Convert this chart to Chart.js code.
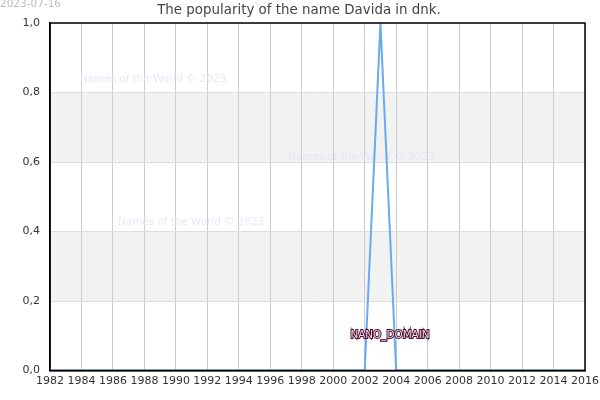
<!DOCTYPE html>
<html>
<head>
<meta charset="utf-8">
<script src="https://cdn.jsdelivr.net/npm/chart.js@4"></script>
<style>
  html, body { margin: 0; padding: 0; background: #fff; }
  #wrap { width: 600px; height: 400px; }
</style>
</head>
<body>
<div id="wrap"><canvas id="popularityChart" width="600" height="400"></canvas></div>
<script>
// Données
const years = [1982, 1983, 1984, 1985, 1986, 1987, 1988, 1989, 1990, 1991, 1992, 1993,
    1994, 1995, 1996, 1997, 1998, 1999, 2000, 2001, 2002, 2003, 2004, 2005, 2006,
    2007, 2008, 2009, 2010, 2011, 2012, 2013, 2014, 2015, 2016];
const popularity = [0, 0, 0, 0, 0, 0, 0, 0, 0, 0, 0, 0,
    0, 0, 0, 0, 0, 0, 0, 0, 0, 1, 0, 0, 0,
    0, 0, 0, 0, 0, 0, 0, 0, 0, 0];
const yTicks = [0, 0.2, 0.4, 0.6, 0.8, 1.0];
const xTicks = [1982, 1984, 1986, 1988, 1990, 1992, 1994, 1996, 1998, 2000, 2002,
    2004, 2006, 2008, 2010, 2012, 2014, 2016];
const bands = [[0.2, 0.4], [0.6, 0.8]];
const watermarks = [[80, 79], [288, 157], [118, 222]];
const chartTitle = 'The popularity of the name Davida in dnk.';

const FONT = 'DejaVu Sans';

// Fond, titre, filigranes et étiquettes
const decorPlugin = {
    id: 'decor',
    beforeDraw(chart) {
        const { ctx, chartArea: a, scales: { y } } = chart;
        ctx.save();
        ctx.fillStyle = '#f2f2f2';
        bands.forEach(([lo, hi]) => {
            const top = y.getPixelForValue(hi);
            const bottom = y.getPixelForValue(lo);
            ctx.fillRect(a.left, top, a.right - a.left, bottom - top);
        });
        ctx.font = `10.5px "${FONT}"`;
        ctx.fillStyle = '#bbbbbb';
        ctx.textBaseline = 'middle';
        ctx.fillText('2023-07-16', 0, 4);
        ctx.font = `13.4px "${FONT}"`;
        ctx.fillStyle = '#444';
        ctx.textAlign = 'center';
        ctx.fillText(chartTitle, 299, 10.5);
        ctx.restore();
    },
    beforeDatasetsDraw(chart) {
        const { ctx } = chart;
        ctx.save();
        ctx.font = `10.4px "${FONT}"`;
        ctx.fillStyle = 'rgba(225, 225, 250, 0.8)';
        ctx.textBaseline = 'middle';
        watermarks.forEach(([x, y]) => ctx.fillText('Names of the World © 2023', x, y));
        ctx.restore();
    },
    afterDatasetsDraw(chart) {
        const { ctx, chartArea: a } = chart;
        ctx.save();
        ctx.strokeStyle = '#000';
        ctx.lineWidth = 1.5;
        ctx.strokeRect(a.left, a.top, a.right - a.left, a.bottom - a.top);
        ctx.font = `10.4px "${FONT}"`;
        ctx.textAlign = 'center';
        ctx.textBaseline = 'middle';
        ctx.lineWidth = 2;
        ctx.strokeStyle = '#4a1030';
        ctx.strokeText('NANO_DOMAIN', 390, 335);
        ctx.fillStyle = '#f0d0e0';
        ctx.fillText('NANO_DOMAIN', 390, 335);
        ctx.restore();
    }
};

function initializeChart() {
    const ctx = document.getElementById('popularityChart').getContext('2d');
    new Chart(ctx, {
        type: 'line',
        data: {
            datasets: [{
                data: years.map((yr, i) => ({ x: yr, y: popularity[i] })),
                borderColor: '#66aaf0',
                borderWidth: 2,
                pointRadius: 0,
                tension: 0,
                fill: false
            }]
        },
        options: {
            responsive: false,
            animation: false,
            devicePixelRatio: 1,
            layout: { padding: { top: 23, right: 15 } },
            plugins: {
                legend: { display: false },
                tooltip: { enabled: false },
                title: { display: false }
            },
            scales: {
                x: {
                    type: 'linear',
                    min: 1982,
                    max: 2016,
                    afterBuildTicks: axis => { axis.ticks = xTicks.map(v => ({ value: v })); },
                    afterFit: axis => {
                        axis.height = 29.5;
                        axis.paddingRight = 0;
                        axis.paddingLeft = 0;
                    },
                    ticks: {
                        color: '#333',
                        font: { family: FONT, size: 11 },
                        maxRotation: 0,
                        autoSkip: false,
                        padding: 4,
                        callback: v => String(v)
                    },
                    grid: { color: '#cccccc', drawTicks: false },
                    border: { color: '#000', width: 1.5 }
                },
                y: {
                    min: 0,
                    max: 1,
                    afterBuildTicks: axis => { axis.ticks = yTicks.map(v => ({ value: v })); },
                    afterFit: axis => {
                        axis.width = 50;
                        axis.paddingTop = 0;
                        axis.paddingBottom = 0;
                    },
                    ticks: {
                        color: '#333',
                        font: { family: FONT, size: 11 },
                        padding: 10,
                        callback: v => v.toFixed(1).replace('.', ',')
                    },
                    grid: { color: '#dddddd', drawTicks: false },
                    border: { color: '#000', width: 1.5 }
                }
            }
        },
        plugins: [decorPlugin]
    });
}

initializeChart();
</script>
</body>
</html>
